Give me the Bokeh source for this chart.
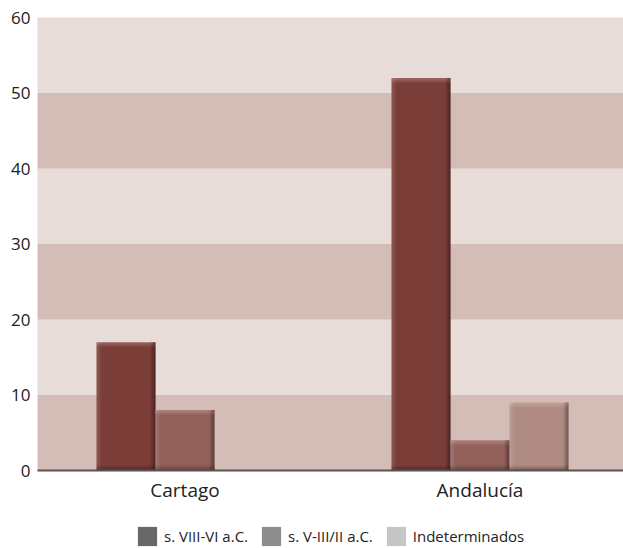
from bokeh.plotting import figure
from bokeh.layouts import column
from bokeh.models import Range1d, FixedTicker, Legend, LegendItem, ColumnDataSource
from bokeh.embed import file_html
from bokeh.resources import INLINE

# ---- data ----
categories = ["Cartago", "Andalucía"]
series_names = ["s. VIII-VI a.C.", "s. V-III/II a.C.", "Indeterminados"]
serie_1 = [17, 52]
serie_2 = [8, 4]
serie_3 = [0, 9]
y_ticks = [0, 10, 20, 30, 40, 50, 60]
dark_bands = [(0, 10), (20, 30), (40, 50)]

bar_colors = ["#7b3d37", "#94605a", "#b08b83"]
legend_colors = ["#686868", "#8e8e8e", "#c6c6c6"]
band_light = "#e8dcd9"
band_dark = "#d4bdb7"

# ---- layout ----
W, H = 623, 508
BL, BR, BT, BB = 37, 0, 17, 38
LEG_H = 40
cat_px = 295.0
frame_w = W - BL - BR
frame_h = H - BT - BB
x_end = frame_w / cat_px
px = x_end / frame_w
py = 60.0 / frame_h

p = figure(width=W, height=H, output_backend="svg", toolbar_location=None,
           x_range=Range1d(0, x_end), y_range=Range1d(0, 60),
           min_border_left=BL, min_border_right=BR, min_border_top=BT,
           min_border_bottom=BB, background_fill_color=band_light,
           border_fill_color="white", outline_line_color=None)
p.grid.visible = False

# background bands
p.quad(left=0, right=x_end, bottom=[b[0] for b in dark_bands],
       top=[b[1] for b in dark_bands], fill_color=band_dark, line_color=None)

# bars
width = 0.2
all_series = [serie_1, serie_2, serie_3]
edges = dict(left=[], right=[], top=[], bottom=[], color=[], alpha=[])
n = 5
for j, vals in enumerate(all_series):
    xs, tops = [], []
    for i, v in enumerate(vals):
        if not v:
            continue
        xs.append(i + 0.5 + (j - 1) * width)
        tops.append(v)
    p.vbar(x=xs, top=tops, bottom=0, width=width, fill_color=bar_colors[j],
           line_color=None)
    for xc, v in zip(xs, tops):
        x0, x1 = xc - width / 2, xc + width / 2
        for k in range(n):
            f = 1 - k / n
            # top highlight
            edges["left"].append(x0); edges["right"].append(x1)
            edges["top"].append(v - k * py); edges["bottom"].append(v - (k + 1) * py)
            edges["color"].append("white"); edges["alpha"].append(0.22 * f)
            # left highlight
            edges["left"].append(x0 + k * px); edges["right"].append(x0 + (k + 1) * px)
            edges["top"].append(v); edges["bottom"].append(0)
            edges["color"].append("white"); edges["alpha"].append(0.14 * f)
            # right shadow
            edges["left"].append(x1 - (k + 1) * px); edges["right"].append(x1 - k * px)
            edges["top"].append(v); edges["bottom"].append(0)
            edges["color"].append("black"); edges["alpha"].append(0.38 * f)
            # bottom shadow
            edges["left"].append(x0); edges["right"].append(x1)
            edges["top"].append((k + 1) * py); edges["bottom"].append(k * py)
            edges["color"].append("black"); edges["alpha"].append(0.32 * f)
p.quad(left="left", right="right", top="top", bottom="bottom",
       fill_color="color", fill_alpha="alpha", line_color=None,
       source=ColumnDataSource(edges))

# axes
p.xaxis.ticker = FixedTicker(ticks=[i + 0.5 for i in range(len(categories))])
p.xaxis.major_label_overrides = {i + 0.5: c for i, c in enumerate(categories)}
p.xaxis.axis_line_color = "#5a5352"
p.xaxis.axis_line_width = 2
p.xaxis.major_tick_line_color = None
p.xaxis.minor_tick_line_color = None
p.xaxis.major_tick_out = 0
p.xaxis.major_tick_in = 0
p.xaxis.major_label_standoff = 6
p.xaxis.major_label_text_font = "Open Sans"
p.xaxis.major_label_text_font_size = "19px"
p.xaxis.major_label_text_color = "#222222"

p.yaxis.ticker = FixedTicker(ticks=y_ticks)
p.yaxis.axis_line_color = None
p.yaxis.major_tick_line_color = None
p.yaxis.minor_tick_line_color = None
p.yaxis.major_tick_out = 0
p.yaxis.major_tick_in = 0
p.yaxis.major_label_standoff = 7
p.yaxis.major_label_text_font = "Open Sans"
p.yaxis.major_label_text_font_size = "17px"
p.yaxis.major_label_text_color = "#222222"

# legend (own strip below the chart)
lg = figure(width=W, height=LEG_H, output_backend="svg", toolbar_location=None,
            x_range=Range1d(0, 1), y_range=Range1d(0, 1),
            min_border_left=0, min_border_right=0, min_border_top=0,
            min_border_bottom=0, outline_line_color=None)
lg.axis.visible = False
lg.grid.visible = False
items = []
for name, col in zip(series_names, legend_colors):
    # one off-screen swatch so the legend has something to draw
    r = lg.quad(left=[5], right=[6], top=[6], bottom=[5], fill_color=col,
                line_color=None)
    items.append(LegendItem(label=name, renderers=[r]))
legend = Legend(items=items, orientation="horizontal", location=(98, 0),
                glyph_width=24, glyph_height=24, label_standoff=5, spacing=11,
                padding=0, margin=0, border_line_alpha=0, background_fill_alpha=0,
                label_text_font="Open Sans", label_text_font_size="15px",
                label_text_color="#222222", label_height=24)
lg.add_layout(legend)

open("out.html", "w").write(file_html(column(p, lg, spacing=0), INLINE))
